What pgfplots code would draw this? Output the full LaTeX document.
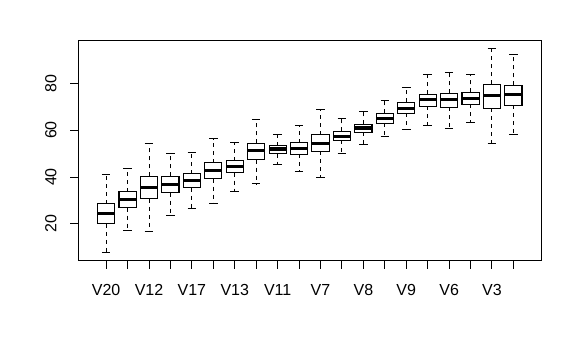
\documentclass[border=0pt]{standalone}
\usepackage{fontspec}
\setmainfont{Liberation Sans}
\usepackage{pgfplots}
\pgfplotsset{compat=1.18}
\usepgfplotslibrary{statistics}
\pgfplotsset{
  rbox/.style={
    black, line width=1.1pt,
    boxplot/draw direction=y,
    boxplot/box extend=0.8,
    boxplot/draw/lower whisker/.code={
      \draw[line width=1pt, dash pattern=on 4pt off 4pt]
        (boxplot box cs:\pgfplotsboxplotvalue{lower quartile},0.5) --
        (boxplot box cs:\pgfplotsboxplotvalue{lower whisker},0.5);
      \draw[line width=1pt]
        (boxplot box cs:\pgfplotsboxplotvalue{lower whisker},0.25) --
        (boxplot box cs:\pgfplotsboxplotvalue{lower whisker},0.75);
    },
    boxplot/draw/upper whisker/.code={
      \draw[line width=1pt, dash pattern=on 4pt off 4pt]
        (boxplot box cs:\pgfplotsboxplotvalue{upper quartile},0.5) --
        (boxplot box cs:\pgfplotsboxplotvalue{upper whisker},0.5);
      \draw[line width=1pt]
        (boxplot box cs:\pgfplotsboxplotvalue{upper whisker},0.25) --
        (boxplot box cs:\pgfplotsboxplotvalue{upper whisker},0.75);
    },
    boxplot/draw/median/.code={
      \draw[line width=3.2pt]
        (boxplot box cs:\pgfplotsboxplotvalue{median},0) --
        (boxplot box cs:\pgfplotsboxplotvalue{median},1);
    },
  },
}
\newcommand{\rb}[6]{%
  \addplot[rbox, boxplot prepared={draw position=#1,
    lower whisker=#2, lower quartile=#3, median=#4,
    upper quartile=#5, upper whisker=#6}] coordinates {};}
\begin{document}
\begin{tikzpicture}
\path[use as bounding box] (-78.3pt,-98pt) rectangle (503.7pt,261pt);
\begin{axis}[
  at={(0pt,0pt)}, anchor=south west,
  scale only axis, width=463pt, height=221pt,
  xmin=-0.3, xmax=21.3, ymin=4.2, ymax=98.4,
  axis line style={line width=1pt},
  tick style={line width=1pt, black},
  major tick length=8pt,
  tick align=outside, xtick pos=bottom, ytick pos=left,
  xtick={1,...,20},
  xticklabels={V20,,V12,,V17,,V13,,V11,,V7,,V8,,V9,,V6,,V3,},
  ytick={20,40,60,80},
  /pgf/number format/assume math mode=true,
  tick label style={font=\fontsize{16}{19}\selectfont},
  xticklabel style={anchor=base, inner sep=0pt, yshift=-27pt},
  yticklabel style={anchor=base, inner sep=0pt, xshift=-14pt, rotate=90},
  clip=false,
]
\rb{1}{7.7}{20.0}{24.4}{28.6}{41.0}
\rb{2}{17.0}{26.9}{30.3}{33.7}{43.7}
\rb{3}{16.6}{30.7}{35.6}{40.3}{54.3}
\rb{4}{23.6}{33.3}{36.9}{40.3}{50.0}
\rb{5}{26.4}{35.4}{38.4}{41.4}{50.4}
\rb{6}{28.6}{39.3}{42.9}{46.1}{56.4}
\rb{7}{33.7}{41.9}{44.6}{47.0}{54.7}
\rb{8}{37.1}{47.4}{51.3}{54.3}{64.6}
\rb{9}{45.3}{50.0}{51.9}{53.4}{58.1}
\rb{10}{42.3}{49.6}{52.3}{54.7}{62.1}
\rb{11}{39.9}{50.9}{54.4}{58.1}{68.9}
\rb{12}{50.0}{55.6}{57.3}{59.4}{64.9}
\rb{13}{53.9}{59.0}{60.9}{62.4}{68.1}
\rb{14}{57.3}{62.9}{65.1}{67.1}{72.7}
\rb{15}{60.3}{67.1}{69.3}{71.9}{78.3}
\rb{16}{62.0}{70.1}{72.9}{75.3}{83.9}
\rb{17}{60.7}{69.7}{72.9}{75.7}{84.7}
\rb{18}{63.4}{71.0}{73.6}{76.1}{83.9}
\rb{19}{54.3}{69.3}{74.6}{79.6}{94.9}
\rb{20}{58.1}{70.6}{75.0}{79.1}{92.1}
\end{axis}
\end{tikzpicture}
\end{document}
